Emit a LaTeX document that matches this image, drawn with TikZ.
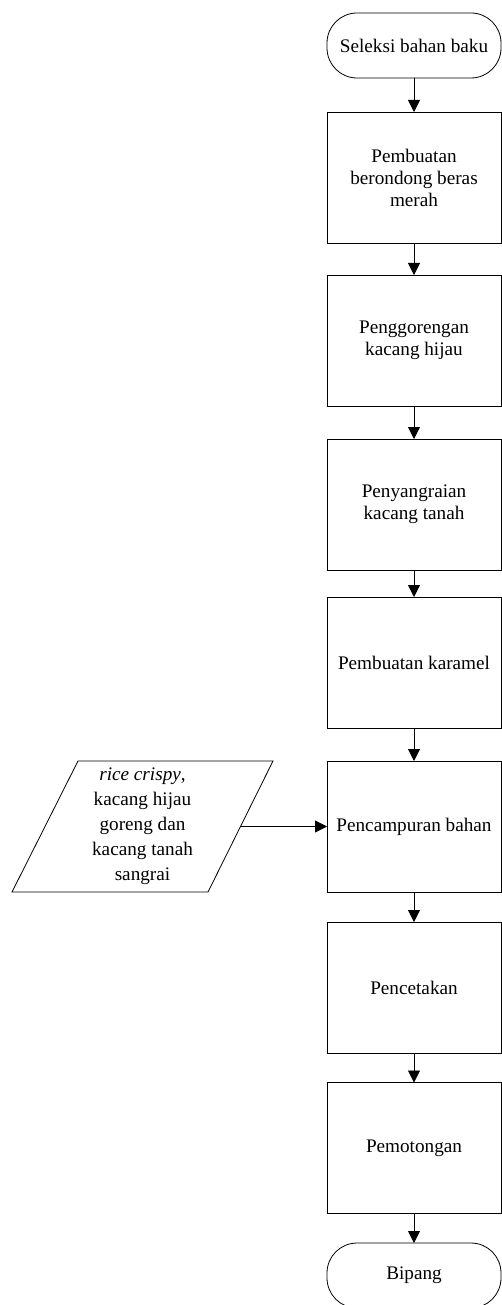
\documentclass[tikz,border=0pt]{standalone}
\usepackage{fontspec}
\setmainfont{Liberation Serif}
\usetikzlibrary{arrows.meta}
\begin{document}
\begin{tikzpicture}[x=1pt,y=-1pt,
  line width=0.8pt,
  every node/.style={font=\fontsize{19.2}{22}\selectfont, align=center, inner sep=0pt, outer sep=0pt},
  procbox/.style={draw, minimum width=174pt, minimum height=131pt},
  termbox/.style={draw, rounded corners=30pt, minimum width=174pt, minimum height=65pt},
  arr/.style={-{Triangle[length=12pt,width=12pt]}}
]
\useasboundingbox (0,0) rectangle (502,1305);
\node[termbox] (start) at (414,45.5) {Seleksi bahan baku};
\node[procbox] (b1) at (414,177.5) {Pembuatan\\berondong beras\\merah};
\node[procbox] (b2) at (414,340.5) {Penggorengan\\kacang hijau};
\node[procbox] (b3) at (414,504.5) {Penyangraian\\kacang tanah};
\node[procbox] (b4) at (414,662.5) {Pembuatan karamel};
\node[procbox] (b5) at (414,826.5) {Pencampuran bahan};
\node[procbox] (b6) at (414,987.5) {Pencetakan};
\node[procbox] (b7) at (414,1148) {Pemotongan};
\node[termbox] (end) at (414,1275.5) {Bipang};
% input parallelogram
\coordinate (p1) at (78,761);
\coordinate (p2) at (273,761);
\coordinate (p3) at (208,892);
\coordinate (p4) at (12,892);
\draw (p1) -- (p2) -- (p3) -- (p4) -- cycle;
\node[font=\fontsize{19.2}{25}\selectfont] (inp) at (142.5,826.5) {\textit{rice crispy},\\kacang hijau\\goreng dan\\kacang tanah\\sangrai};
\coordinate (pin) at (240.5,826.5);
\draw[arr] (start) -- (b1);
\draw[arr] (b1) -- (b2);
\draw[arr] (b2) -- (b3);
\draw[arr] (b3) -- (b4);
\draw[arr] (b4) -- (b5);
\draw[arr] (b5) -- (b6);
\draw[arr] (b6) -- (b7);
\draw[arr] (b7) -- (end);
\draw[arr] (pin) -- (b5.west);
\end{tikzpicture}
\end{document}
